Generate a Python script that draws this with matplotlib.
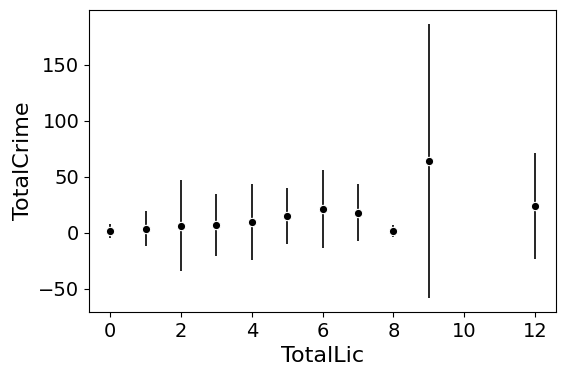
import matplotlib
matplotlib.use("Agg")
import matplotlib.pyplot as plt

# mean crime per licence count, with error bars
total_lic = [0, 1, 2, 3, 4, 5, 6, 7, 8, 9, 12]
crime_mean = [1.8, 3.6, 6.2, 7.1, 9.8, 15.1, 21.4, 17.8, 1.8, 64.2, 24.1]
crime_err = [6.5, 15.6, 40.5, 27.8, 34.0, 25.3, 34.8, 25.5, 5.5, 122.5, 47.2]

fig = plt.figure(figsize=(5.64, 3.79), dpi=100)
ax = fig.add_axes([0.158, 0.177, 0.828, 0.797])
ax.errorbar(total_lic, crime_mean, yerr=crime_err, fmt='o', color='black',
            ecolor='black', elinewidth=1.2, markersize=6,
            markeredgecolor='white', markeredgewidth=0.8)
ax.set_xlabel("TotalLic", fontsize=16)
ax.set_ylabel("TotalCrime", fontsize=16)
ax.tick_params(labelsize=14)
ax.set_xticks([0, 2, 4, 6, 8, 10, 12])
ax.set_yticks([-50, 0, 50, 100, 150])
fig.savefig("out.png", dpi=100)
